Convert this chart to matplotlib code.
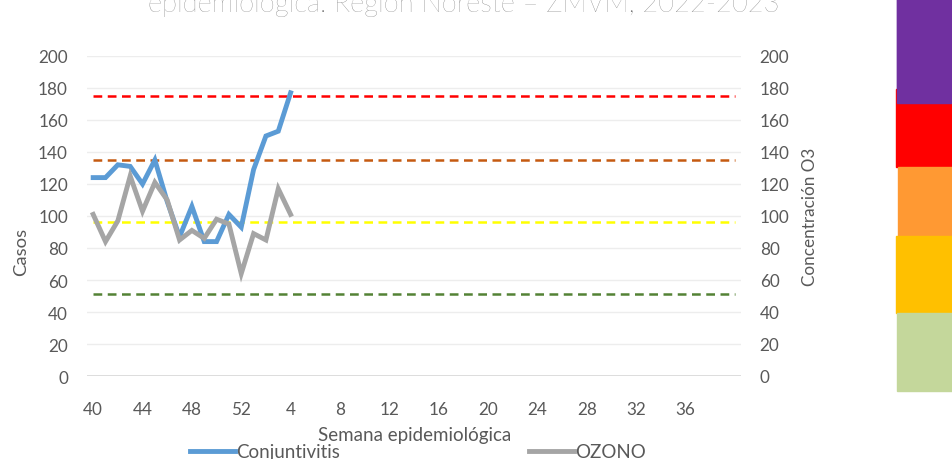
import matplotlib
matplotlib.use("Agg")
import matplotlib.pyplot as plt
from matplotlib.patches import Rectangle
from matplotlib.lines import Line2D
import numpy as np

# ---- data ----
weeks = [40, 41, 42, 43, 44, 45, 46, 47, 48, 49, 50, 51, 52] + list(range(1, 41))
conjuntivitis = [124, 124, 132, 131, 120, 135, 109, 87, 106, 84, 84, 101, 93,
                 129, 150, 153, 177]
ozono = [101, 84, 97, 125, 103, 121, 110, 85, 91, 86, 98, 95, 64,
         89, 85, 117, 101]
umbral_values = [175, 135, 96, 51]
umbral_colors = ["#FF0000", "#C55A11", "#FFFF00", "#548235"]
left_ticks = [0, 20, 40, 60, 80, 100, 120, 140, 160, 180, 200]
block_colors = ["#7030A0", "#FF0000", "#FF9933", "#FFC000", "#C4D79B"]
series_names = ["Conjuntivitis", "OZONO"]

title_text = "epidemiológica. Región Noreste – ZMVM, 2022-2023"

plt.rcParams['font.family'] = ['Lato', 'DejaVu Sans']
TXT = "#595959"

fig = plt.figure(figsize=(9.53, 4.60), dpi=100)
ax = fig.add_axes([87/953, 1-377/460, (741-87)/953, (377-57)/460])
ax2 = ax.twinx()

n = len(weeks)
x_all = np.arange(n)

# gridlines
for v in left_ticks[1:]:
    ax.axhline(v, color="#EDEDED", lw=1.0, zorder=0)
ax.axhline(0, color="#D9D9D9", lw=2.0, zorder=1)

# threshold lines
for v, c in zip(umbral_values, umbral_colors):
    ax.plot([x_all[0], x_all[-1]], [v, v], color=c, lw=1.8,
            dashes=(3.5, 2.2), zorder=2)

ax.plot(np.arange(len(conjuntivitis)), conjuntivitis, color="#5B9BD5", lw=3.5,
        solid_joinstyle="miter", zorder=4)
ax2.plot(np.arange(len(ozono)), ozono, color="#A5A5A5", lw=3.5,
         solid_joinstyle="miter", zorder=4)

for a in (ax, ax2):
    a.set_xlim(-0.5, n - 0.5)
    a.set_ylim(0, 200)
    for s in a.spines.values():
        s.set_visible(False)

ax.set_yticks(left_ticks)
ax.set_yticklabels([str(t) for t in left_ticks])
ax2.set_yticks(left_ticks)
ax2.set_yticklabels([str(t) for t in left_ticks])
ax.tick_params(axis='y', length=0, pad=13.7, labelsize=12.3, labelcolor=TXT)
ax2.tick_params(axis='y', length=0, pad=13.5, labelsize=12.3, labelcolor=TXT)

tick_idx = list(range(0, 49, 4))
ax.set_xticks(tick_idx)
ax.set_xticklabels([str(weeks[i]) for i in tick_idx])
ax.tick_params(axis='x', length=0, pad=18, labelsize=12.3, labelcolor=TXT)

# axis titles
fig.text(415/953, 1-441/460, "Semana epidemiológica", fontsize=13.5, color=TXT,
         ha="center", va="baseline")
fig.text(21/953, 1-252/460, "Casos", fontsize=13.3, color=TXT,
         ha="center", va="center", rotation=90)
fig.text(810/953, 1-217/460, "Concentración O3", fontsize=12.3, color=TXT,
         ha="center", va="center", rotation=90)

# title (top part clipped by figure edge, as in the reference)
fig.text(148/953, 1-12/460, title_text, fontsize=19.7, color="#6E6E6E",
         ha="left", va="baseline", fontweight="light")

# legend at bottom
h1 = Line2D([], [], color="#5B9BD5", lw=3.5)
h2 = Line2D([], [], color="#A5A5A5", lw=3.5)
fig.legend([h1, h2], series_names, loc="center left",
           bbox_to_anchor=(190/953, 1-453/460), ncol=2, frameon=False,
           fontsize=13.5, labelcolor=TXT, handlelength=2.4,
           handletextpad=0.05, columnspacing=10.1, borderpad=0, borderaxespad=0)

# colour blocks on the right
blocks = [(897, 0, 104), (896, 90, 168), (898, 168, 240), (896, 237, 314), (897, 314, 392)]
for (x0, y0, y1), c in zip(blocks, block_colors):
    fig.patches.append(Rectangle((x0/953, 1-y1/460), (953-x0)/953, (y1-y0)/460,
                                 transform=fig.transFigure, color=c, zorder=0))
fig.patches.append(Rectangle((897/953, 1-104/460), (953-897)/953, 104/460,
                             transform=fig.transFigure, color=block_colors[0], zorder=1))

fig.savefig("out.png", dpi=100)
